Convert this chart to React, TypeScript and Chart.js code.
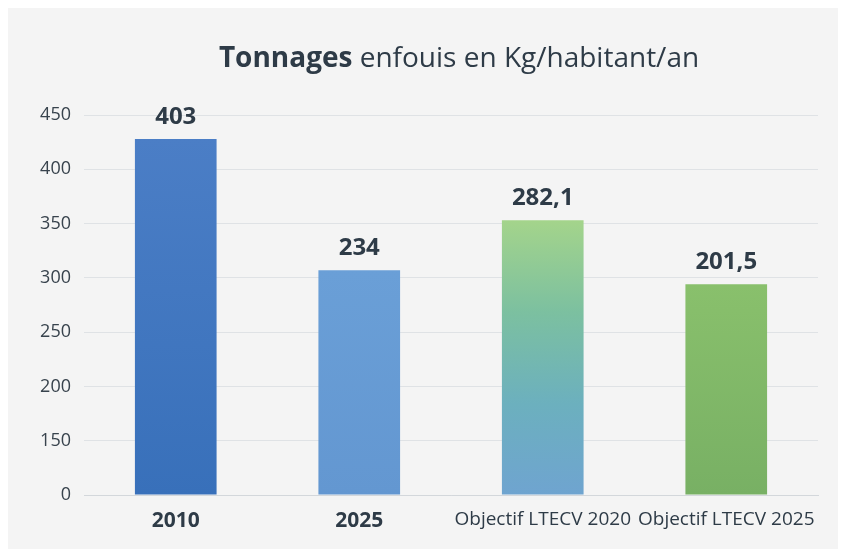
import React, { useEffect, useRef } from "react";
import { Chart, registerables } from "chart.js";

Chart.register(...registerables);

const categories = ["2010", "2025", "Objectif LTECV 2020", "Objectif LTECV 2025"];
// bar heights as read against the drawn axis
const barValues = [428, 307, 353, 294];
// value labels printed above the bars
const valueLabels = ["403", "234", "282,1", "201,5"];
// axis tick values (bottom tick is shown as "0" on this broken axis)
const yTicks = [100, 150, 200, 250, 300, 350, 400, 450];
const yTickLabels = ["0", "150", "200", "250", "300", "350", "400", "450"];
const titleBold = "Tonnages";
const titleRest = " enfouis en Kg/habitant/an";

const barGradients: string[][] = [
  ["#4b7ec6", "#3870ba"],
  ["#6a9fd7", "#6397d1"],
  ["#a4d48b", "#7cc0a0", "#6cb0be", "#6fa4d0"],
  ["#89c06c", "#78b064"],
];

const TEXT = "#2e3b47";
const FONT = "'Open Sans', 'Noto Sans', sans-serif";

export default function App() {
  const ref = useRef<HTMLCanvasElement | null>(null);

  useEffect(() => {
    if (!ref.current) return;

    const labelsPlugin = {
      id: "valueLabels",
      afterDatasetsDraw(chart: any) {
        const ctx = chart.ctx;
        const meta = chart.getDatasetMeta(0);
        ctx.save();
        ctx.fillStyle = TEXT;
        ctx.font = `bold 24px ${FONT}`;
        ctx.textAlign = "center";
        ctx.textBaseline = "alphabetic";
        meta.data.forEach((bar: any, i: number) => {
          ctx.fillText(valueLabels[i], bar.x, bar.y - 15);
        });
        ctx.restore();
      },
    };

    const titlePlugin = {
      id: "mixedTitle",
      afterDraw(chart: any) {
        const ctx = chart.ctx;
        const ca = chart.chartArea;
        ctx.save();
        ctx.fillStyle = TEXT;
        ctx.textBaseline = "alphabetic";
        ctx.font = `bold 28px ${FONT}`;
        const w1 = ctx.measureText(titleBold).width;
        ctx.font = `28px ${FONT}`;
        const w2 = ctx.measureText(titleRest).width;
        const cx = (ca.left + ca.right) / 2 + 8;
        const x0 = cx - (w1 + w2) / 2;
        ctx.font = `bold 28px ${FONT}`;
        ctx.textAlign = "left";
        ctx.fillText(titleBold, x0, 59);
        ctx.font = `28px ${FONT}`;
        ctx.fillText(titleRest, x0 + w1, 59);
        ctx.restore();
      },
    };

    const chart = new Chart(ref.current, {
      type: "bar",
      data: {
        labels: categories,
        datasets: [
          {
            data: barValues,
            base: 100,
            backgroundColor: (c: any) => {
              const chart = c.chart;
              const ca = chart.chartArea;
              const i = c.dataIndex;
              const g = barGradients[i] || barGradients[0];
              if (!ca || !chart.scales.y) return g[0];
              const top = chart.scales.y.getPixelForValue(barValues[i]);
              const grad = chart.ctx.createLinearGradient(0, top, 0, ca.bottom);
              g.forEach((col, k) => grad.addColorStop(k / (g.length - 1), col));
              return grad;
            },
            borderWidth: 0,
            barPercentage: 0.445,
            categoryPercentage: 1,
          },
        ],
      },
      options: {
        animation: false,
        responsive: false,
        maintainAspectRatio: false,
        layout: { padding: { top: 107, right: 22, left: 0, bottom: 0 } },
        plugins: {
          legend: { display: false },
          tooltip: { enabled: false },
          title: { display: false },
        },
        scales: {
          x: {
            grid: { display: false, drawTicks: false },
            border: { display: true, color: "#d3d7db", width: 1 },
            ticks: {
              color: TEXT,
              padding: 13,
              maxRotation: 0,
              autoSkip: false,
              font: (c: any) => ({
                family: FONT,
                size: c.index < 2 ? 21 : 19,
                weight: c.index < 2 ? "bold" : "normal",
              }),
            },
            afterFit: (s: any) => {
              s.height = 54;
            },
          },
          y: {
            min: 100,
            max: 450,
            afterBuildTicks: (s: any) => {
              s.ticks = yTicks.map((v) => ({ value: v }));
            },
            grid: { color: "#dfe2e5", drawTicks: false },
            border: { display: false },
            ticks: {
              color: "#38434d",
              padding: 13,
              font: { family: FONT, size: 18 },
              callback: (v: any) => {
                const idx = yTicks.indexOf(Number(v));
                return idx >= 0 ? yTickLabels[idx] : "";
              },
            },
            afterFit: (s: any) => {
              s.width = 76;
            },
          },
        },
      },
      plugins: [labelsPlugin, titlePlugin],
    });

    return () => chart.destroy();
  }, []);

  return (
    <div style={{ width: 832, height: 541, background: "#f4f4f4" }}>
      <canvas ref={ref} width={832} height={541} style={{ display: "block" }} />
    </div>
  );
}
